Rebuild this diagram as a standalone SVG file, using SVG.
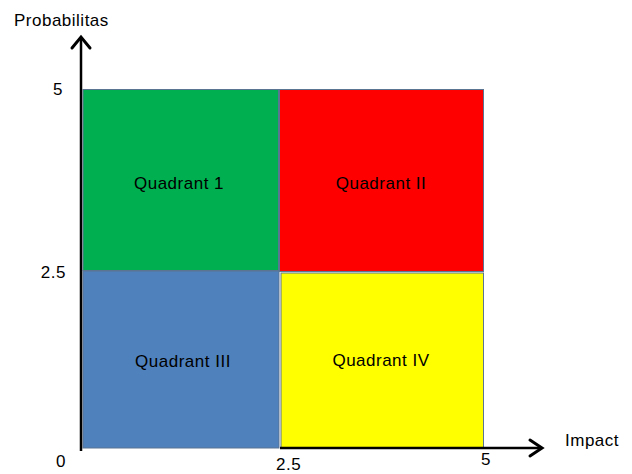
<svg xmlns="http://www.w3.org/2000/svg" width="632" height="474" viewBox="0 0 632 474">
<defs>
<style>
text{font-family:"Liberation Sans",Arial,sans-serif;font-size:17px;letter-spacing:0.5px;fill:#000}
.q{stroke:#5a7592;stroke-width:1}
.ax{stroke:#000;stroke-width:2.5;fill:none}
.ah{stroke:#000;stroke-width:3;fill:none;stroke-linecap:round;stroke-linejoin:miter}
</style>
</defs>
<rect width="632" height="474" fill="#fff"/>
<g id="q1"><rect class="q" x="83" y="89.5" width="195.5" height="181" fill="#00B050"/><text x="179" y="189" text-anchor="middle">Quadrant 1</text></g>
<g id="q2"><rect class="q" x="279.5" y="89.5" width="204" height="182" fill="#FF0000"/><text x="381" y="189" text-anchor="middle">Quadrant II</text></g>
<g id="q3"><rect class="q" x="83" y="271" width="196" height="177" fill="#4F81BD"/><text x="183" y="367" text-anchor="middle">Quadrant III</text></g>
<g id="q4"><rect class="q" x="281" y="273" width="202.5" height="175" fill="#FFFF00"/><text x="381" y="366" text-anchor="middle">Quadrant IV</text></g>
<g id="axes">
<line class="ax" x1="81" y1="451" x2="81" y2="38"/>
<polyline class="ah" points="72,48 81,37 90,48"/>
<line class="ax" x1="280" y1="448" x2="541" y2="448"/>
<polyline class="ah" points="530,440 542,448 530,456"/>
</g>
<g id="labels">
<text x="14" y="26">Probabilitas</text>
<text x="565" y="446">Impact</text>
<text x="63" y="95" text-anchor="end">5</text>
<text x="66" y="278" text-anchor="end">2.5</text>
<text x="66" y="467" text-anchor="end">0</text>
<text x="276" y="470">2.5</text>
<text x="481" y="465">5</text>
</g>
</svg>
